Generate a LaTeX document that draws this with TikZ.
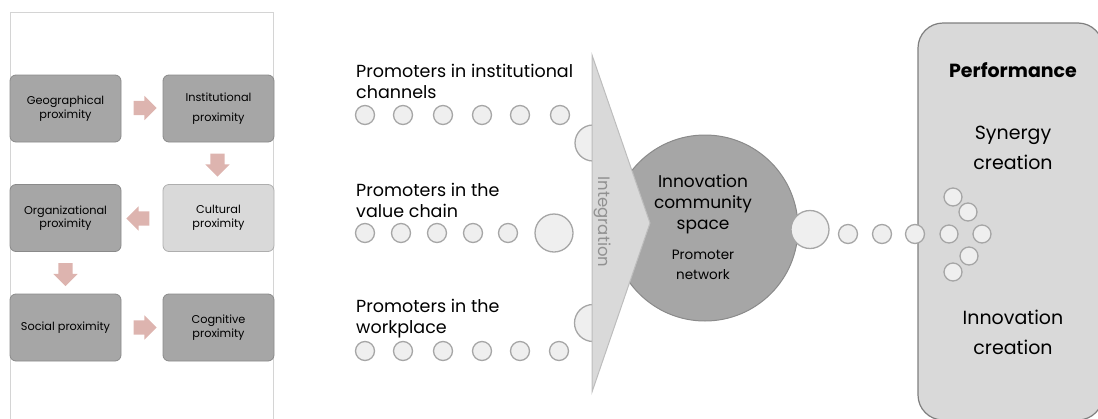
\documentclass[tikz,border=0pt]{standalone}
\usepackage{fontspec}
\setmainfont{Poppins}
\usetikzlibrary{shapes.arrows}

\definecolor{boxdark}{HTML}{A6A6A6}
\definecolor{boxedge}{HTML}{8A8A8A}
\definecolor{boxlight}{HTML}{D9D9D9}
\definecolor{pinkarrow}{HTML}{DDB4AF}
\definecolor{dotfill}{HTML}{EFEFEF}
\definecolor{dotedge}{HTML}{A6A6A6}
\definecolor{panel}{HTML}{D4D4D4}
\definecolor{wedgeedge}{HTML}{BDBDBD}
\definecolor{labelgray}{HTML}{919191}
\definecolor{perfedge}{HTML}{7F7F7F}

\tikzset{
  prox/.style={draw=boxedge, fill=boxdark, rounded corners=6pt, line width=0.8pt,
    minimum width=111pt, minimum height=67pt, inner sep=0pt, align=center,
    font=\fontsize{11.3}{13.5}\selectfont},
  proxlight/.style={prox, fill=boxlight, draw=boxlight!80!black},
  parrow/.style={single arrow, fill=pinkarrow, draw=none, inner sep=7pt,
    minimum height=23pt, single arrow head extend=5pt, single arrow tip angle=90},
  dot/.style={circle, draw=dotedge, fill=dotfill, line width=1.3pt,
    minimum size=19pt, inner sep=0pt},
  bigdot/.style={dot, minimum size=38pt},
  chev/.style={dot, minimum size=18pt},
  promo/.style={anchor=north west, inner sep=0pt, align=left,
    font=\fontsize{17.5}{21}\selectfont},
  perftext/.style={align=center, inner sep=0pt, font=\fontsize{19}{30}\selectfont}
}

\begin{document}
\begin{tikzpicture}[x=1pt, y=-1pt]
\useasboundingbox (0,0) rectangle (1098,418);

% ---- proximity panel ----
\draw[panel, line width=1pt] (10,440) -- (10,12) -- (273,12) -- (273,440);

\node[prox] (geo)  at (65.5,108.5) {Geographical\\proximity};
\node[prox, font=\fontsize{11.3}{20}\selectfont] (inst) at (218.5,108.5) {Institutional\\proximity};
\node[proxlight] (cult) at (218.5,218) {Cultural\\proximity};
\node[prox] (org)  at (65.5,218) {Organizational\\proximity};
\node[prox] (soc)  at (65.5,327.5) {Social proximity};
\node[prox] (cog)  at (218.5,327.5) {Cognitive\\proximity};

\node[parrow] (a1) at (141.5,108) {};
\node[parrow, rotate=-90] (a2) at (217.5,161.5) {};
\node[parrow, rotate=180] (a3) at (141.5,218.5) {};
\node[parrow, rotate=-90] (a4) at (65.5,271) {};
\node[parrow] (a5) at (141.5,327.5) {};

% ---- promoter groups ----
\node[promo] (t1) at (356,64) {Promoters in institutional\\channels};
\node[promo] (t2) at (356,183) {Promoters in the\\value chain};
\node[promo] (t3) at (356,299) {Promoters in the\\workplace};

\foreach \x [count=\i] in {365,403,443,482,520,560}
  \node[dot] (r1d\i) at (\x,115) {};
\foreach \x [count=\i] in {365,401,437,473,508}
  \node[dot] (r2d\i) at (\x,233) {};
\node[bigdot] (r2big) at (554,233) {};
\foreach \x [count=\i] in {365,403,443,482,520,559}
  \node[dot] (r3d\i) at (\x,351) {};

\node[bigdot, minimum size=36pt] (h1) at (593,143) {};
\node[bigdot, minimum size=37pt] (h3) at (593,323) {};

% ---- community space ----
\node[circle, draw=boxedge, fill=boxdark, line width=1pt, minimum size=186pt,
  inner sep=0pt] (space) at (705,228) {};

% integration wedge
\coordinate (wt) at (592,55);
\coordinate (wtip) at (650,223);
\coordinate (wb) at (592,392);
\draw[fill=boxlight, draw=wedgeedge, line width=1pt] (wt) -- (wtip) -- (wb) -- cycle;
\node[rotate=-90, text=labelgray, inner sep=0pt, font=\fontsize{16.5}{16.5}\selectfont]
  (integ) at (603,222) {Integration};

\node[align=center, inner sep=0pt, font=\fontsize{17}{21}\selectfont]
  (spacetxt) at (703,204) {Innovation\\community\\space};
\node[align=center, inner sep=0pt, font=\fontsize{13.5}{20}\selectfont]
  (nettxt) at (703,265) {Promoter\\network};

% ---- performance ----
\draw[fill=boxlight, draw=perfedge, line width=1.2pt, rounded corners=25pt]
  (918,23) rectangle (1103,420);
\node[inner sep=0pt, font=\fontsize{19}{19}\selectfont\bfseries] (perf) at (1013,70) {Performance};
\node[perftext] (syn) at (1013,148) {Synergy\\creation};
\node[perftext] (inn) at (1013,332) {Innovation\\creation};

\node[bigdot] (o1) at (810,229.5) {};
\foreach \x [count=\i] in {848,882,915}
  \node[dot] (o\i s) at (\x,234) {};

\node[chev] (c1) at (953,197) {};
\node[chev] (c2) at (968,212) {};
\node[chev] (c3) at (949,234) {};
\node[chev] (c4) at (982,234) {};
\node[chev] (c5) at (969,256) {};
\node[chev] (c6) at (953,272) {};
\end{tikzpicture}
\end{document}
